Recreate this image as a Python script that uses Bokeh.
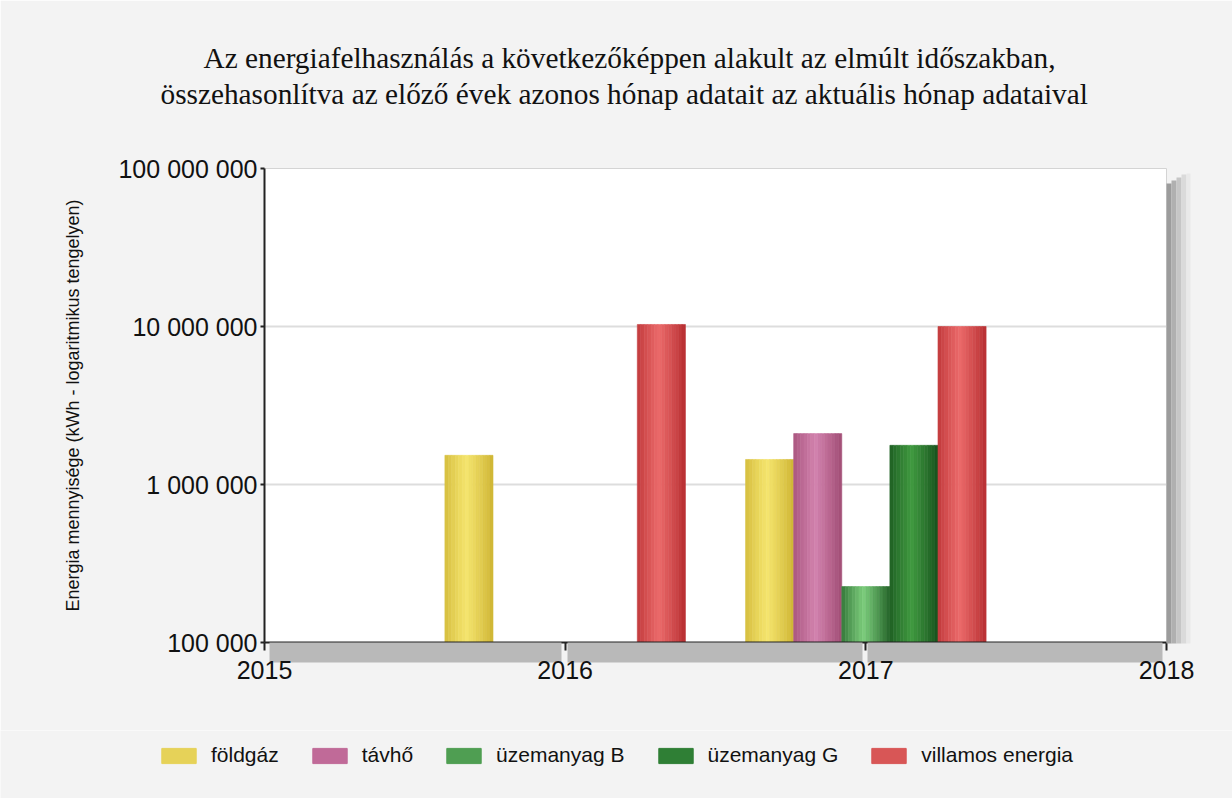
import numpy as np
from bokeh.plotting import figure
from bokeh.models import (ColumnDataSource, FixedTicker, CustomJSTickFormatter,
                          Legend, LegendItem, Title, LinearAxis)
from bokeh.embed import file_html
from bokeh.resources import INLINE

# ---------------- data ----------------
years = [2016, 2017]
series = ["földgáz", "távhő", "üzemanyag B", "üzemanyag G", "villamos energia"]
foldgaz = [1530000, 1440000]
tavho = [None, 2100000]
uzemanyag_b = [None, 226000]
uzemanyag_g = [None, 1770000]
villamos = [10300000, 10000000]
x_ticks = [2015, 2016, 2017, 2018]
y_ticks = [100000, 1000000, 10000000, 100000000]
title_line1 = "Az energiafelhasználás a következőképpen alakult az elmúlt időszakban,"
title_line2 = "összehasonlítva az előző évek azonos hónap adatait az aktuális hónap adataival"
y_label = "Energia mennyisége (kWh - logaritmikus tengelyen)"

values = [foldgaz, tavho, uzemanyag_b, uzemanyag_g, villamos]

# ---------------- style ----------------
dark = [(206, 180, 50), (160, 75, 115), (34, 98, 40), (22, 80, 28), (182, 45, 48)]
light = [(245, 229, 110), (210, 130, 174), (124, 205, 124), (64, 154, 64), (235, 106, 106)]
mid = ["#e6d258", "#c06a98", "#4f9e52", "#2f7f35", "#d85656"]
bg = "#f3f3f3"
slot = 0.16
n_strips = 14

def mix(a, b, w):
    return "#%02x%02x%02x" % tuple(int(round(a[i] + (b[i] - a[i]) * w)) for i in range(3))

p = figure(width=1232, height=730, x_range=(x_ticks[0], x_ticks[-1]),
           y_range=(y_ticks[0], y_ticks[-1]), y_axis_type="log",
           output_backend="svg", toolbar_location=None,
           min_border_left=264, min_border_right=66, min_border_top=168, min_border_bottom=88)
p.background_fill_color = "white"
p.border_fill_color = bg
p.outline_line_color = "#d4d4d4"
p.outline_line_width = 1

main_x = p.below[0]
yax = p.left[0]

# legend strip (separate canvas below the chart)
lg = figure(width=1232, height=68, x_range=(0, 1), y_range=(0, 1),
            output_backend="svg", toolbar_location=None,
            x_axis_location=None, y_axis_location=None,
            min_border=0, min_border_left=0, min_border_right=0,
            min_border_top=0, min_border_bottom=0)
lg.background_fill_color = bg
lg.border_fill_color = bg
lg.outline_line_color = None
lg.xgrid.visible = False
lg.ygrid.visible = False

# bars as vertical gradient strips
legend_items = []
for k, (name, vals) in enumerate(zip(series, values)):
    xs, tops, cols = [], [], []
    for yr, v in zip(years, vals):
        if v is None:
            continue
        center = yr + (k - 2) * slot
        for j in range(n_strips):
            t = (j + 0.5) / n_strips
            w = max(0.0, 1 - abs(t - 0.45) / 0.55) ** 0.9
            xs.append(center - slot / 2 + (j + 0.5) * slot / n_strips)
            tops.append(v)
            cols.append(mix(dark[k], light[k], w))
    src = ColumnDataSource(dict(x=xs, top=tops, c=cols))
    p.vbar(x="x", top="top", bottom=y_ticks[0], width=slot / n_strips, source=src,
           fill_color="c", line_color="c", line_width=0.6)
    # legend proxy glyph, placed outside the visible range of the legend canvas
    proxy = lg.vbar(x=[-5], top=[-5], bottom=-6, width=0.1,
                    fill_color=mid[k], line_color=mid[k])
    legend_items.append(LegendItem(label=name, renderers=[proxy]))

# bottom drop shadow: dense unlabeled minor ticks of the x axis (decoration only)
shadow_x = [float(v) for v in np.arange(x_ticks[0] + 0.02, x_ticks[-1], 0.005)
            if min(abs(v - t) for t in x_ticks) > 0.01]

# axes
main_x.ticker = FixedTicker(ticks=x_ticks, minor_ticks=shadow_x)
yax.ticker = FixedTicker(ticks=y_ticks, minor_ticks=[])
yax.formatter = CustomJSTickFormatter(
    code="return Math.round(tick).toString().replace(/\\B(?=(\\d{3})+(?!\\d))/g, ' ');")
for ax in (main_x, yax):
    ax.axis_line_width = 2
    ax.axis_line_color = "#222222"
    ax.major_tick_line_color = "#222222"
    ax.major_tick_line_width = 2
    ax.major_tick_in = 0
    ax.major_label_text_font = "Liberation Sans"
    ax.major_label_text_font_size = "25px"
    ax.major_label_text_color = "#111111"
yax.minor_tick_line_color = None
main_x.major_tick_out = 8
main_x.minor_tick_in = 0
main_x.minor_tick_out = 20
main_x.minor_tick_line_color = "#b9b9b9"
main_x.minor_tick_line_width = 2
main_x.major_label_standoff = -2
yax.major_tick_out = 4
yax.major_label_standoff = 3
yax.axis_label = y_label
yax.axis_label_text_font = "Liberation Sans"
yax.axis_label_text_font_size = "18px"
yax.axis_label_text_font_style = "normal"
yax.axis_label_text_color = "#111111"
yax.axis_label_standoff = 32

# right drop shadow: stacked unlabeled axes with dense minor ticks (decoration only)
shadow_layers = [(5, "#9c9c9c", 7.90), (5, "#b0b0b0", 7.92), (5, "#c6c6c6", 7.94),
                 (5, "#dadada", 7.96), (4, "#e9e9e9", 7.97)]
for length, col, ytop in shadow_layers:
    mt = [float(v) for v in 10 ** np.arange(5.0, ytop, 0.0095)]
    ax = LinearAxis(ticker=FixedTicker(ticks=[], minor_ticks=mt),
                    axis_line_color=None, major_tick_line_color=None,
                    major_tick_in=0, major_tick_out=0, major_label_standoff=0,
                    minor_tick_in=0, minor_tick_out=length,
                    minor_tick_line_color=col, minor_tick_line_width=2)
    p.add_layout(ax, "right")

p.xgrid.visible = False
p.ygrid.ticker = FixedTicker(ticks=y_ticks, minor_ticks=[])
p.ygrid.grid_line_color = "#dddddd"
p.ygrid.grid_line_width = 2

# titles (spacer nearest the frame, then line 2, then line 1)
spacer = Title(text=" ", text_font_size="40px", standoff=12)
t2 = Title(text=title_line2, align="left", offset=-104, standoff=2,
           text_font="Liberation Serif", text_font_size="29.3px",
           text_font_style="normal", text_color="#111111")
t1 = Title(text=title_line1, align="left", offset=-61, standoff=2,
           text_font="Liberation Serif", text_font_size="29.3px",
           text_font_style="normal", text_color="#111111")
p.add_layout(spacer, "above")
p.add_layout(t2, "above")
p.add_layout(t1, "above")

legend = Legend(items=legend_items, orientation="horizontal", location=(157, 31),
                glyph_width=43, glyph_height=19, label_standoff=11, spacing=29,
                padding=0, margin=0, border_line_color=None, background_fill_alpha=0,
                label_text_font="Liberation Sans", label_text_font_size="21px",
                label_text_color="#111111", label_height=19)
lg.add_layout(legend)

open("out.html", "w").write(file_html([p, lg], INLINE))
